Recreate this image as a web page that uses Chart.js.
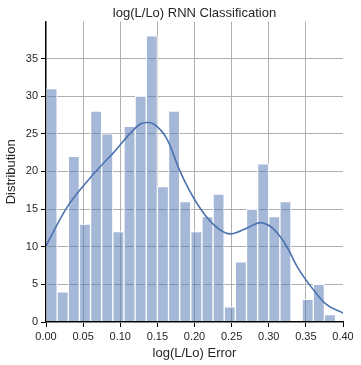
<!DOCTYPE html>
<html>
<head>
<meta charset="utf-8">
<script src="https://cdn.jsdelivr.net/npm/chart.js@4.4.0/dist/chart.umd.min.js"></script>
<style>
  html, body { margin: 0; padding: 0; background: #fff; }
  #wrap { width: 361px; height: 365px; }
</style>
</head>
<body>
<div id="wrap"><canvas id="hist-chart"></canvas></div>
<script>
// Histogram of log(L/Lo) error, 26 bins of width 0.015

const binCenters = [
  0.0075, 0.0225, 0.0375, 0.0525, 0.0675, 0.0825, 0.0975, 0.1125, 0.1275,
  0.1425, 0.1575, 0.1725, 0.1875, 0.2025, 0.2175, 0.2325, 0.2475, 0.2625,
  0.2775, 0.2925, 0.3075, 0.3225, 0.3375, 0.3525, 0.3675, 0.3825,
];
const counts = [
  31, 4, 22, 13, 28, 25, 12, 26, 30, 38, 18, 28, 16, 12, 14, 17, 2, 8, 15,
  21, 14, 16, 0, 3, 5, 1,
];

// density curve
const kdeX = [
  0.0, 0.028, 0.06, 0.091, 0.127, 0.136, 0.145, 0.163, 0.181, 0.203, 0.226,
  0.248, 0.271, 0.289, 0.307, 0.325, 0.338, 0.36, 0.378, 0.4,
];
const kdeY = [
  10.1, 15.2, 19.2, 22.5, 26.3, 26.5, 26.3, 24.3, 19.9, 15.8, 12.9, 11.7,
  12.5, 13.2, 12.3, 9.9, 7.4, 4.3, 2.3, 1.2,
];

const xTicks = [0, 0.05, 0.1, 0.15, 0.2, 0.25, 0.3, 0.35, 0.4];
const yTicks = [0, 5, 10, 15, 20, 25, 30, 35];

const font = "'Liberation Sans', Arial, sans-serif";
const textColor = "#262626";

const ctx = document.getElementById("hist-chart");

new Chart(ctx, {
  type: "bar",
  data: {
    datasets: [
      {
        type: "line",
        label: "kde",
        data: kdeX.map((x, i) => ({ x: x, y: kdeY[i] })),
        borderColor: "#4C72B0",
        borderWidth: 1.6,
        pointRadius: 0,
        fill: false,
        cubicInterpolationMode: "monotone",
        order: 0,
      },
      {
        label: "count",
        data: binCenters.map((x, i) => ({ x: x, y: counts[i] })),
        backgroundColor: "rgba(76, 114, 176, 0.5)",
        borderColor: "#ffffff",
        borderWidth: (c) => (c.raw && c.raw.y > 0 ? 1 : 0),
        borderSkipped: "start",
        categoryPercentage: 1,
        barPercentage: 1,
        order: 1,
      },
    ],
  },
  options: {
    responsive: true,
    maintainAspectRatio: false,
    animation: false,
    layout: { padding: { left: 4, right: 18, top: 0, bottom: 4 } },
    plugins: {
      legend: { display: false },
      tooltip: { enabled: false },
      title: {
        display: true,
        text: "log(L/Lo) RNN Classification",
        fullSize: false,
        color: textColor,
        font: { family: font, size: 13, weight: "normal" },
        padding: { top: 6, bottom: 0 },
      },
    },
    scales: {
      x: {
        type: "linear",
        min: 0,
        max: 0.4,
        offset: false,
        afterBuildTicks: (scale) => {
          scale.ticks = xTicks.map((v) => ({ value: v }));
        },
        afterFit: (scale) => {
          scale.height = 39;
        },
        ticks: {
          color: textColor,
          font: { family: font, size: 11 },
          padding: 3,
          maxRotation: 0,
          autoSkip: false,
          callback: (v) => Number(v).toFixed(2),
        },
        grid: {
          offset: false,
          color: (c) => (c.tick && c.tick.value >= 0.4 ? "rgba(0,0,0,0)" : "#b0b0b0"),
          lineWidth: 1,
          tickColor: "#000",
          tickLength: 5,
        },
        border: { display: true, color: "#000", width: 1.3, z: 1 },
        title: {
          display: true,
          text: "log(L/Lo) Error",
          color: textColor,
          font: { family: font, size: 13 },
          padding: { top: 2, bottom: 0 },
        },
      },
      y: {
        min: 0,
        max: 39.9,
        afterBuildTicks: (scale) => {
          scale.ticks = yTicks.map((v) => ({ value: v }));
        },
        afterFit: (scale) => {
          scale.width = 42;
        },
        ticks: {
          color: textColor,
          font: { family: font, size: 11 },
          padding: 3,
        },
        grid: {
          color: "#b0b0b0",
          lineWidth: 1,
          tickColor: "#000",
          tickLength: 5,
        },
        border: { display: true, color: "#000", width: 1.3, z: 1 },
        title: {
          display: true,
          text: "Distribution",
          color: textColor,
          font: { family: font, size: 13 },
          padding: { top: 0, bottom: 2 },
        },
      },
    },
  },
});
</script>
</body>
</html>
